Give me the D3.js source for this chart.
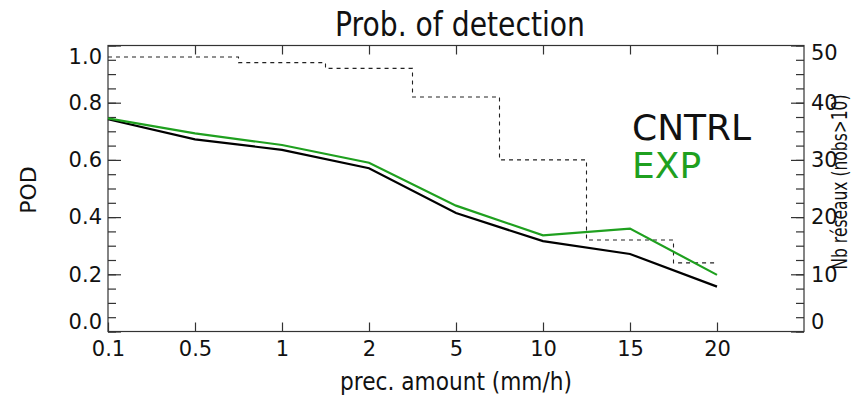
<!DOCTYPE html>
<html lang="en">
<head>
    <meta charset="UTF-8">
    <title>Prob. of detection</title>
    <script src="https://d3js.org/d3.v7.min.js"></script>
    <style>
        body { margin: 0; background: #fff; }
        svg text { font-family: "DejaVu Sans", sans-serif; fill: #111; }
    </style>
</head>
<body>
    <svg id="canvas" width="852" height="398"></svg>
    <script>
        // thresholds on the bottom axis
        let xLabels = ["0.1", "0.5", "1", "2", "5", "10", "15", "20"];
        // POD for each run
        let podCntrl = [0.742, 0.672, 0.635, 0.571, 0.414, 0.316, 0.271, 0.157];
        let podExp = [0.745, 0.693, 0.652, 0.590, 0.440, 0.336, 0.360, 0.198];
        // number of networks (nobs>10), right axis
        let nbReseaux = [48, 48, 47, 46, 41, 30, 16, 12];

        let podTicks = [0, 0.2, 0.4, 0.6, 0.8, 1.0];
        let nbTicks = [0, 10, 20, 30, 40, 50];

        let canvas = d3.select("#canvas");

        let plotLeft = 108, plotRight = 804, plotTop = 45.5, plotBottom = 331.5;

        let xScale = d3.scaleLinear().domain([0, 8]).range([plotLeft, plotRight]);
        let yScale = d3.scaleLinear().domain([0, 1]).range([plotBottom, plotTop]);
        let nbScale = d3.scaleLinear().domain([0, 50]).range([plotBottom, plotTop]);

        let axisColor = "#333";

        // minor ticks first
        let minorPod = d3.range(0, 21).map(i => i * 0.05);
        let minorNb = d3.range(0, 21).map(i => i * 2.5);

        canvas.append("g")
            .attr("transform", `translate(${plotLeft},0)`)
            .call(d3.axisLeft(yScale).tickValues(minorPod).tickSize(-8).tickFormat(""));
        canvas.append("g")
            .attr("transform", `translate(${plotRight},0)`)
            .call(d3.axisRight(nbScale).tickValues(minorNb).tickSize(-8).tickFormat(""));

        let leftAxis = canvas.append("g")
            .attr("transform", `translate(${plotLeft},0)`)
            .call(d3.axisLeft(yScale).tickValues(podTicks).tickSize(-13).tickPadding(6)
                .tickFormat(d3.format(".1f")));

        let rightAxis = canvas.append("g")
            .attr("transform", `translate(${plotRight},0)`)
            .call(d3.axisRight(nbScale).tickValues(nbTicks).tickSize(-13).tickPadding(7)
                .tickFormat(d3.format("d")));

        let bottomAxis = canvas.append("g")
            .attr("transform", `translate(0,${plotBottom})`)
            .call(d3.axisBottom(xScale).tickValues(d3.range(0, 8)).tickSize(-9).tickPadding(10)
                .tickFormat((d, i) => xLabels[i]));

        canvas.append("g")
            .attr("transform", `translate(0,${plotTop})`)
            .call(d3.axisTop(xScale).tickValues(d3.range(1, 8)).tickSize(-9).tickFormat(""));

        canvas.selectAll(".domain").remove();
        canvas.selectAll(".tick line").attr("stroke", axisColor).attr("stroke-width", 1.2);
        canvas.selectAll(".tick text").attr("font-size", 21).attr("fill", "#111");

        // end labels sit inside the frame like the original
        leftAxis.selectAll(".tick text").attr("y", d => d == 1 ? 11.5 : (d == 0 ? -9.5 : 0));
        rightAxis.selectAll(".tick text").attr("y", d => d == 50 ? 7.5 : (d == 0 ? -9.5 : 0));

        canvas.append("rect")
            .attr("x", plotLeft).attr("y", plotTop)
            .attr("width", plotRight - plotLeft).attr("height", plotBottom - plotTop)
            .attr("fill", "none").attr("stroke", axisColor).attr("stroke-width", 1.2);

        // histogram of networks
        let stepLine = d3.line()
            .x((d, i) => xScale(i))
            .y(d => nbScale(d))
            .curve(d3.curveStep);

        canvas.append("path")
            .attr("d", stepLine(nbReseaux))
            .attr("fill", "none")
            .attr("stroke", "#222")
            .attr("stroke-width", 1.1)
            .attr("stroke-dasharray", "4,4");

        let podLine = d3.line()
            .x((d, i) => xScale(i))
            .y(d => yScale(d));

        canvas.append("path")
            .attr("d", podLine(podCntrl))
            .attr("fill", "none")
            .attr("stroke", "#000")
            .attr("stroke-width", 2.2);

        canvas.append("path")
            .attr("d", podLine(podExp))
            .attr("fill", "none")
            .attr("stroke", "#1fa01f")
            .attr("stroke-width", 2.2);

        // titles (narrow font in the original, so squeeze them)
        canvas.append("text")
            .text("Prob. of detection")
            .attr("x", 460).attr("y", 36)
            .attr("text-anchor", "middle")
            .attr("font-size", 34)
            .attr("textLength", 250).attr("lengthAdjust", "spacingAndGlyphs");

        canvas.append("text")
            .text("prec. amount (mm/h)")
            .attr("x", 456).attr("y", 390)
            .attr("text-anchor", "middle")
            .attr("font-size", 24)
            .attr("textLength", 232).attr("lengthAdjust", "spacingAndGlyphs");

        canvas.append("text")
            .text("POD")
            .attr("transform", "translate(36,190) rotate(-90)")
            .attr("text-anchor", "middle")
            .attr("font-size", 22);

        canvas.append("text")
            .text("Nb réseaux (nobs>10)")
            .attr("transform", "translate(847,182) rotate(-90)")
            .attr("text-anchor", "middle")
            .attr("font-size", 21)
            .attr("textLength", 175).attr("lengthAdjust", "spacingAndGlyphs");

        // legend
        canvas.append("text")
            .text("CNTRL")
            .attr("x", 632).attr("y", 140)
            .attr("font-size", 36)
            .attr("fill", "#000");

        canvas.append("text")
            .text("EXP")
            .attr("x", 632).attr("y", 178)
            .attr("font-size", 36)
            .style("fill", "#1fa01f");
    </script>
</body>
</html>
